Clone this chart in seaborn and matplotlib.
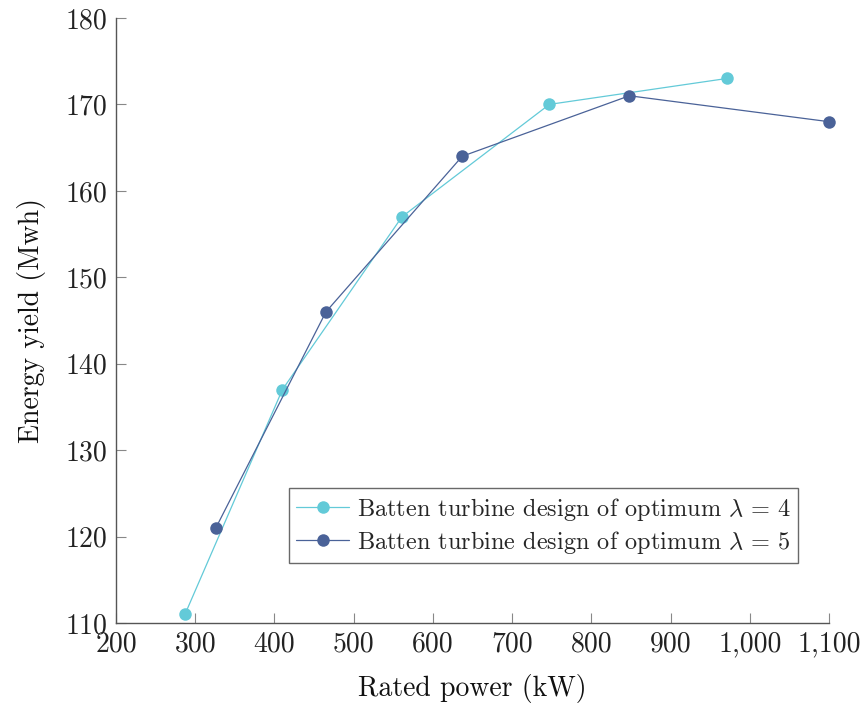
import matplotlib
matplotlib.use("Agg")
import matplotlib.pyplot as plt
from matplotlib.ticker import FuncFormatter, MultipleLocator
import seaborn as sns
import pandas as pd

# Rated power (kW) and energy yield (MWh) for the two batten turbine designs
power_l4 = [287, 410, 561, 747, 971]
yield_l4 = [111, 137, 157, 170, 173]
power_l5 = [326, 465, 637, 848, 1100]
yield_l5 = [121, 146, 164, 171, 168]
labels = [r"Batten turbine design of optimum $\lambda\,=\,4$",
          r"Batten turbine design of optimum $\lambda\,=\,5$"]
colors = ["#63CAD8", "#4A6298"]

sns.set_theme(style="white")
plt.rcParams["font.family"] = ["cmr10"]
plt.rcParams["mathtext.fontset"] = "cm"
plt.rcParams["axes.formatter.use_mathtext"] = True

df = pd.DataFrame({
    "power": power_l4 + power_l5,
    "yield": yield_l4 + yield_l5,
    "design": [labels[0]] * len(power_l4) + [labels[1]] * len(power_l5),
})

fig = plt.figure(figsize=(8.64, 7.13), dpi=100)
ax = fig.add_axes([0.1343, 0.1262, 0.8252, 0.8486])

sns.lineplot(data=df, x="power", y="yield", hue="design", hue_order=labels,
             palette=colors, marker="o", markersize=9, markeredgewidth=0,
             linewidth=0.9, sort=False, ax=ax, clip_on=False, zorder=3)

ax.set_xlim(200, 1100)
ax.set_ylim(110, 180)
ax.xaxis.set_major_locator(MultipleLocator(100))
ax.yaxis.set_major_locator(MultipleLocator(10))
ax.xaxis.set_major_formatter(FuncFormatter(lambda v, p: f"{v:,.0f}"))
ax.yaxis.set_major_formatter(FuncFormatter(lambda v, p: f"{v:.0f}"))

for side in ["top", "right"]:
    ax.spines[side].set_visible(False)
for side in ["left", "bottom"]:
    ax.spines[side].set_color("#555555")
    ax.spines[side].set_linewidth(1.0)

ax.tick_params(axis="both", direction="in", length=7, width=0.8,
               color="#888888", labelsize=20, labelcolor="#222222", pad=6)
ax.tick_params(axis="both", which="both", bottom=True, left=True)

ax.set_xlabel("Rated power (kW)", fontsize=20, color="#111111", labelpad=12)
ax.set_ylabel("Energy yield (Mwh)", fontsize=20, color="#111111", labelpad=14)

leg = ax.legend(loc="center", bbox_to_anchor=(0.599, 0.161), fontsize=17.5,
                frameon=True, fancybox=False, handlelength=2.2,
                handletextpad=0.3, borderpad=0.3, labelspacing=0.25,
                borderaxespad=0)
leg.get_frame().set_edgecolor("#444444")
leg.get_frame().set_linewidth(1.0)
leg.set_zorder(5)

fig.savefig("out.png", dpi=100)
